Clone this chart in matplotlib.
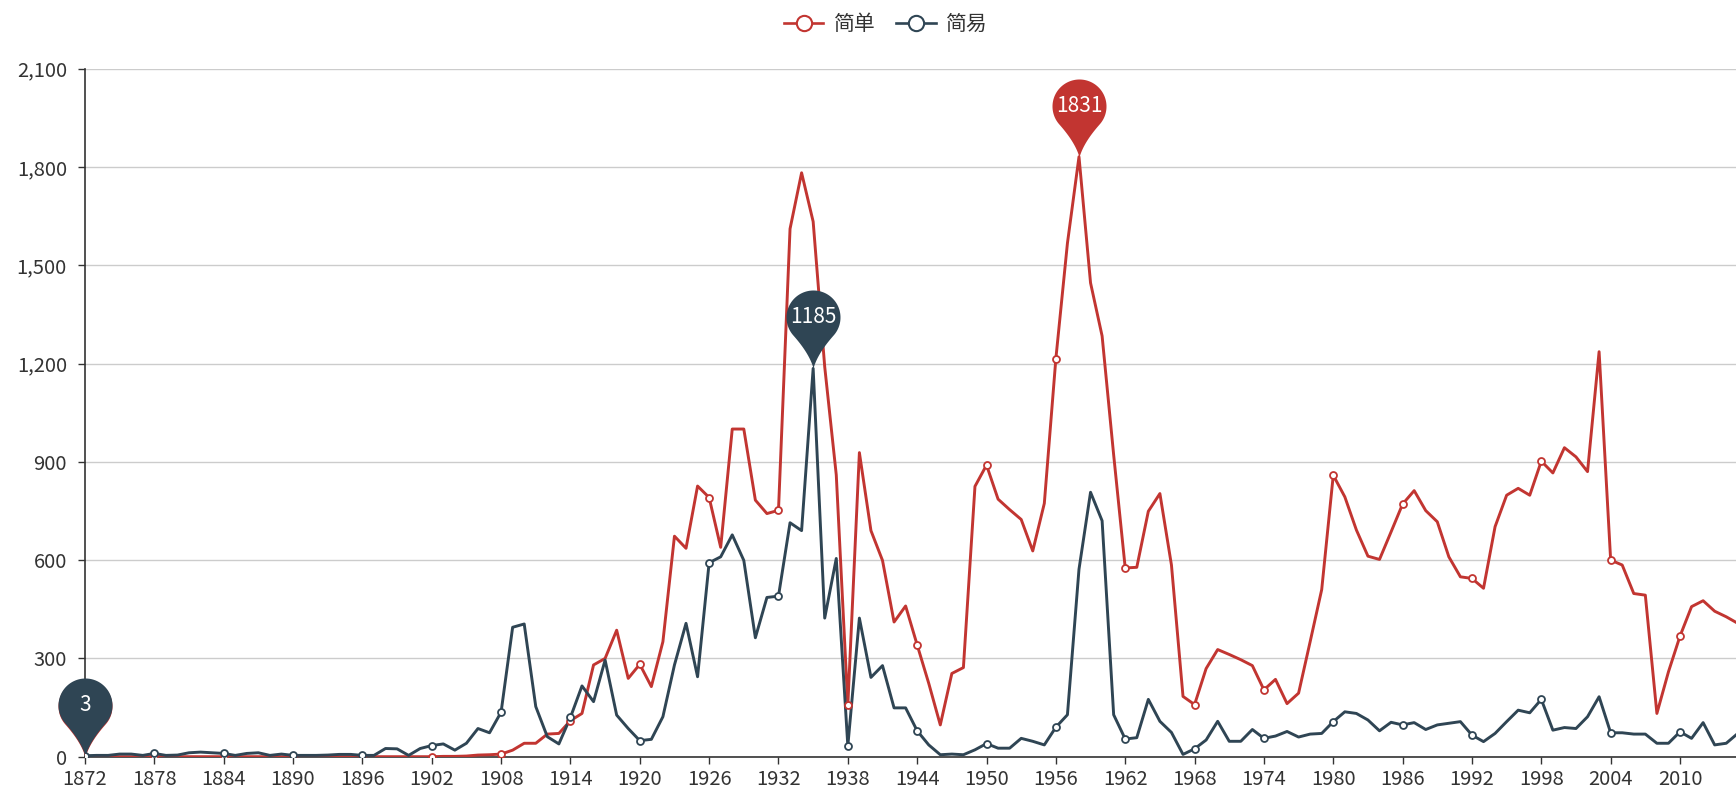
import numpy as np
import matplotlib
matplotlib.use("Agg")
import matplotlib.pyplot as plt
from matplotlib.path import Path
from matplotlib.lines import Line2D
from matplotlib.ticker import FuncFormatter

plt.rcParams['font.family'] = ['Noto Sans CJK SC', 'DejaVu Sans']

########## DATA ##########
years = list(range(1872, 2016))

# 简单 (red)
jiandan = [0] * 29 + [
    0, 0, 1, 1, 2, 5, 6, 8, 20, 41,
    41, 69, 71, 110, 132, 280, 300, 386, 239, 282,
    214, 351, 673, 636, 826, 791, 639, 1000, 1000, 783,
    742, 752, 1611, 1782, 1633, 1190, 860, 157, 928, 690,
    599, 411, 460, 341, 224, 97, 254, 272, 825, 890,
    786, 754, 724, 628, 773, 1215, 1567, 1831, 1446, 1284,
    921, 576, 578, 749, 803, 585, 184, 159, 269, 327,
    312, 296, 278, 204, 236, 162, 194, 351, 510, 859,
    793, 692, 612, 602, 686, 771, 812, 751, 717, 610,
    549, 544, 514, 702, 798, 819, 798, 902, 866, 943,
    915, 870, 1236, 600, 585, 498, 493, 132, 259, 368,
    458, 476, 444, 427, 407]

# 简易 (dark blue)
jianyi = [
    3, 4, 4, 8, 8, 4, 10, 4, 5, 12,
    14, 12, 10, 4, 10, 12, 4, 8, 4, 4,
    4, 5, 7, 7, 4, 4, 25, 24, 4, 25,
    34, 39, 20, 41, 86, 73, 136, 395, 405, 153,
    61, 39, 120, 216, 168, 295, 127, 86, 49, 53,
    122, 280, 407, 244, 592, 610, 677, 599, 363, 486,
    490, 714, 690, 1185, 423, 605, 33, 423, 242, 278,
    149, 149, 79, 36, 6, 8, 6, 21, 40, 26,
    26, 56, 47, 36, 90, 128, 572, 807, 720, 128,
    54, 58, 175, 108, 74, 7, 24, 51, 108, 47,
    47, 83, 56, 63, 77, 60, 69, 71, 107, 137,
    132, 112, 79, 105, 97, 104, 83, 97, 102, 107,
    66, 46, 71, 107, 142, 134, 175, 81, 89, 86,
    122, 183, 73, 73, 69, 69, 41, 41, 76, 56,
    104, 36, 41, 71]

series_names = ['简单', '简易']
y_ticks = list(range(0, 2101, 300))
x_ticks = years[::6]

RED = '#c23531'
NAVY = '#2f4554'
TXT = '#333333'


def pin_marker(d=51.0, r=27.0):
    # balloon pin shape, tip at the origin, circle above it
    gap = np.deg2rad(48)
    angs = np.linspace(-np.pi / 2 + gap, 1.5 * np.pi - gap, 80)
    arc = np.column_stack([r * np.cos(angs), d + r * np.sin(angs)])
    left, right = arc[-1], arc[0]
    t = np.linspace(0, 1, 20)[:, None]
    tip = np.array([0.0, 0.0])
    c_l = np.array([left[0] * 0.2, left[1] * 0.45])
    c_r = np.array([right[0] * 0.2, right[1] * 0.45])
    tail_l = (1 - t) ** 2 * left + 2 * (1 - t) * t * c_l + t ** 2 * tip
    tail_r = (1 - t) ** 2 * tip + 2 * (1 - t) * t * c_r + t ** 2 * right
    verts = np.vstack([arc, tail_l[1:], tail_r[1:-1], arc[:1]])
    codes = [Path.MOVETO] + [Path.LINETO] * (len(verts) - 2) + [Path.CLOSEPOLY]
    return Path(verts, codes), d, r


########## PLOT ##########
W, H = 1736, 791
fig = plt.figure(figsize=(W / 100, H / 100), dpi=100)
x0, y0, ytop = 85, 756.7, 68.6
px_per_year = 11.558
ax = fig.add_axes([x0 / W, (H - y0) / H, (W - x0) / W, (y0 - ytop) / H])

ax.set_xlim(1872, 1872 + (W - x0) / px_per_year)
ax.set_ylim(0, 2100)

ax.plot(years, jiandan, color=RED, lw=2.1, zorder=3)
ax.plot(years, jianyi, color=NAVY, lw=2.1, zorder=3.1)
ax.plot(years[::6], jiandan[::6], 'o', ms=5, mfc='white', mec=RED, mew=1.3, zorder=6)
ax.plot(years[::6], jianyi[::6], 'o', ms=5, mfc='white', mec=NAVY, mew=1.3, zorder=6.1)

# mark points (max / min)
pin, d, r = pin_marker()
pin_ms = 2 * (d + r) * 72 / 100
for vals, col, z in [(jiandan, RED, 4), (jianyi, NAVY, 5)]:
    for idx in [int(np.argmax(vals)), int(np.argmin(vals))]:
        ax.plot(years[idx], vals[idx], marker=pin, ms=pin_ms, color=col,
                mec='none', ls='none', clip_on=False, zorder=z)
        ax.annotate(str(vals[idx]), (years[idx], vals[idx]), xytext=(0, d),
                    textcoords='offset pixels', ha='center', va='center',
                    color='white', fontsize=15, zorder=z + 0.5,
                    annotation_clip=False)

# axes styling
ax.set_xticks(x_ticks)
ax.set_xticklabels([str(y) for y in x_ticks])
ax.set_yticks(y_ticks)
ax.yaxis.set_major_formatter(FuncFormatter(lambda v, p: f'{int(v):,}'))
ax.tick_params(axis='x', direction='out', length=5, width=1, color=TXT,
               labelsize=14.5, labelcolor=TXT, pad=4)
ax.tick_params(axis='y', direction='out', length=5, width=1, color=TXT,
               labelsize=14.5, labelcolor=TXT, pad=8)
ax.yaxis.grid(True, color='#cccccc', lw=1)
ax.set_axisbelow(True)
for s in ['top', 'right']:
    ax.spines[s].set_visible(False)
for s in ['left', 'bottom']:
    ax.spines[s].set_color(TXT)
    ax.spines[s].set_linewidth(1.2)

# legend
handles = [Line2D([], [], color=RED, lw=1.9, marker='o', ms=11, mfc='white', mec=RED, mew=1.5),
           Line2D([], [], color=NAVY, lw=1.9, marker='o', ms=11, mfc='white', mec=NAVY, mew=1.5)]
leg = fig.legend(handles, series_names, loc='center', bbox_to_anchor=(886 / W, 1 - 24 / H),
                 ncol=2, frameon=False, fontsize=15, handlelength=1.9,
                 handletextpad=0.5, columnspacing=1.0)
for t in leg.get_texts():
    t.set_color(TXT)

fig.savefig('out.png', dpi=100)
